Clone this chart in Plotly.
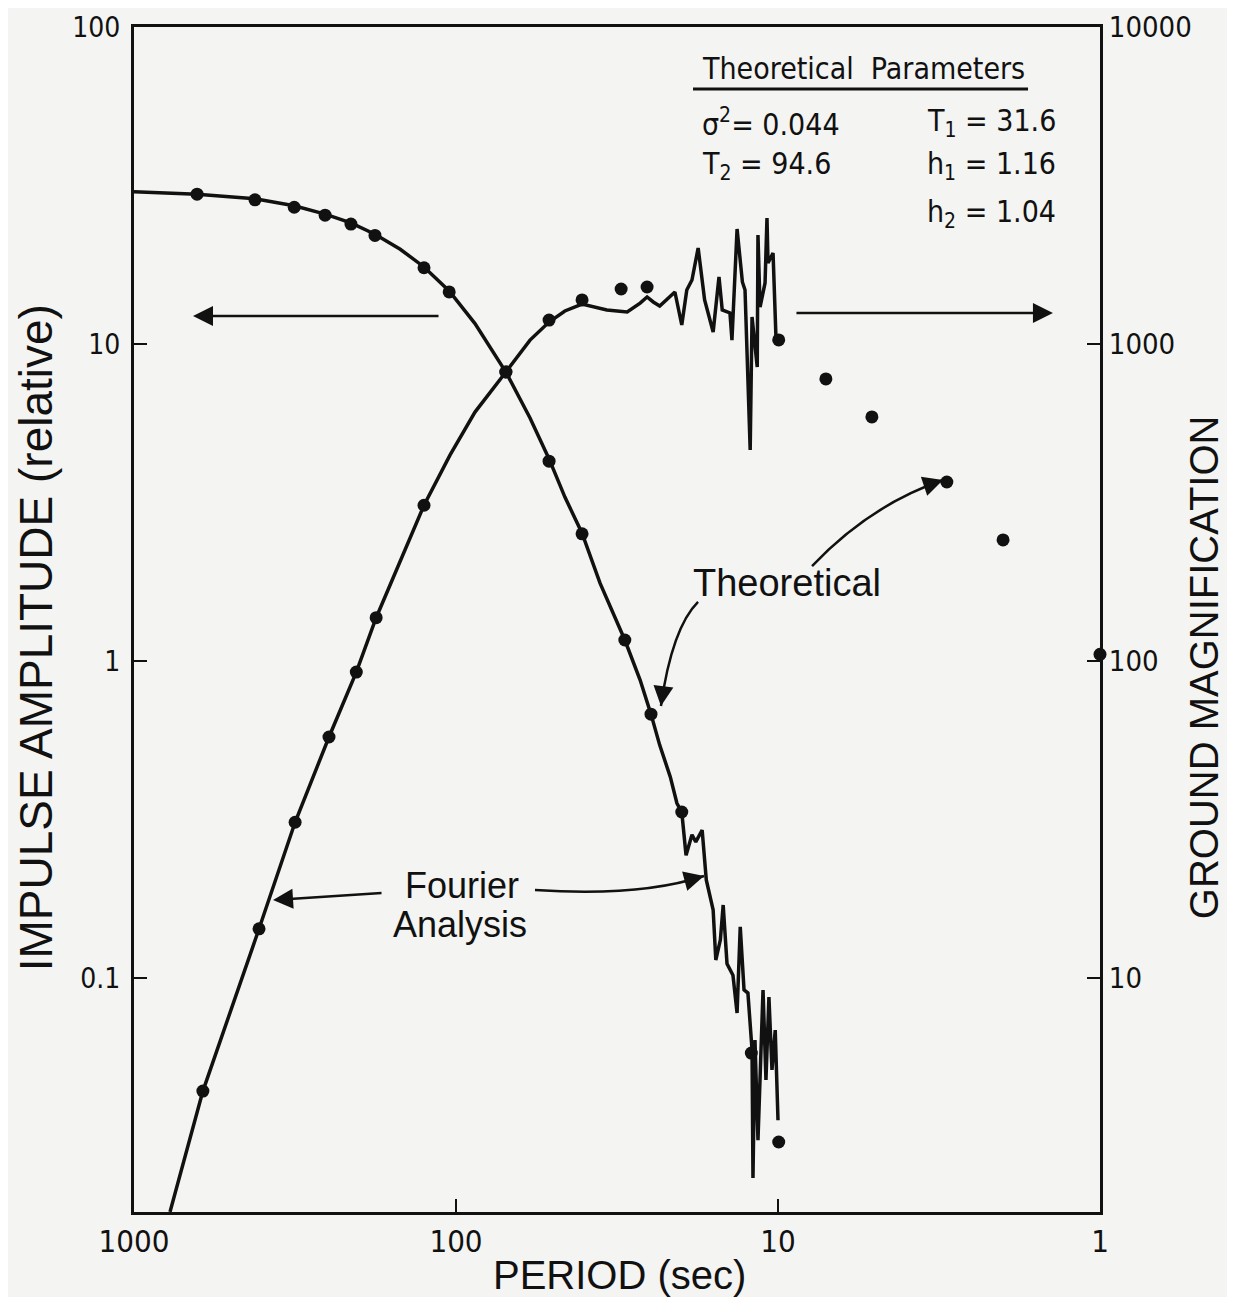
import plotly.graph_objects as go

# impulse amplitude (left axis) - Fourier analysis line
amp_period = [1000, 637, 421, 318, 255, 212, 178.5, 149, 125.7, 105, 87.3, 70, 58.9, 51.4, 45.9,
              40.6, 35.7, 29.9, 26.8, 24.8, 23.3, 21.6, 20.6, 19.9, 19.3, 18.5, 18.0, 17.2, 16.7,
              15.9, 15.6, 15.1, 14.8, 14.4, 13.8, 13.4, 13.1, 12.75, 12.4, 12.04, 11.96, 11.79,
              11.54, 11.29, 11.13, 10.9, 10.67, 10.44, 10.2, 10.0]
amp_value = [30.2, 29.7, 28.7, 27.3, 25.7, 24.1, 22.2, 19.9, 17.5, 14.7, 11.6, 8.16, 5.84, 4.34, 3.29,
             2.53, 1.76, 1.165, 0.871, 0.680, 0.543, 0.431, 0.356, 0.334, 0.244, 0.283, 0.269, 0.293,
             0.204, 0.164, 0.114, 0.132, 0.170, 0.111, 0.102, 0.0776, 0.145, 0.0917, 0.0897, 0.0593,
             0.0234, 0.0637, 0.0308, 0.0571, 0.0917, 0.0477, 0.0871, 0.0513, 0.0685, 0.0356]

# ground magnification (right axis) - Fourier analysis line
mag_period = [773, 611, 409, 316, 248, 204, 177, 149, 125.7, 104.4, 87.3, 70, 58.9, 51.4, 45.9, 40.6,
              34.0, 29.4, 26.8, 25.5, 24.4, 23.3, 22.1, 20.9, 19.9, 19.2, 18.5, 17.7, 16.9, 15.9,
              15.25, 14.9, 14.1, 13.9, 13.4, 12.9, 12.66, 12.2, 12.04, 11.6, 11.54, 11.37, 10.97,
              10.82, 10.74, 10.36, 10.14, 9.95]
mag_value = [1.83, 4.40, 14.3, 31.0, 57.6, 92.3, 137, 208, 310, 446, 610, 816, 1029, 1173, 1271, 1337,
             1281, 1262, 1346, 1407, 1357, 1318, 1387, 1459, 1148, 1480, 1592, 2009, 1377, 1091,
             1627, 1281, 1253, 1029, 2306, 1569, 1480, 463, 1217, 846, 2207, 1308, 1558,
             2497, 1801, 1937, 1029, 1030]

# theoretical points
amp_dot_period = [637, 421, 318, 255, 212, 178.5, 125.7, 105, 70, 51.4, 40.6, 29.9, 24.8, 19.9, 12.1, 9.95]
amp_dot_value = [29.7, 28.5, 27.0, 25.5, 23.9, 22.0, 17.4, 14.6, 8.16, 4.27, 2.52, 1.165, 0.680, 0.334, 0.058, 0.0304]
mag_dot_period = [611, 409, 316, 248, 204, 177, 125.7, 70, 51.4, 40.6, 30.7, 25.5, 9.95, 7.10, 5.11, 2.99, 2.00, 1.0]
mag_dot_value = [4.40, 14.3, 31.0, 57.6, 92.3, 137, 310, 816, 1190, 1377, 1491, 1513, 1030, 776, 589, 367, 241, 105]

x_ticks = [1000, 100, 10, 1]
left_ticks = [0.1, 1, 10, 100]
right_ticks = [10, 100, 1000, 10000]

ink = "#111111"
bg = "#f4f4f2"
narrow = "Liberation Sans Narrow, DejaVu Sans Condensed, sans-serif"
regular = "Liberation Sans, Arial, sans-serif"


def nfont(size):
    return dict(family=narrow, size=size, color=ink)


fig = go.Figure()

fig.add_trace(go.Scatter(x=amp_period, y=amp_value, mode="lines",
                         line=dict(color=ink, width=3.5), yaxis="y"))
fig.add_trace(go.Scatter(x=mag_period, y=mag_value, mode="lines",
                         line=dict(color=ink, width=3.5), yaxis="y2"))
fig.add_trace(go.Scatter(x=amp_dot_period, y=amp_dot_value, mode="markers", cliponaxis=False,
                         marker=dict(color=ink, size=13), yaxis="y"))
fig.add_trace(go.Scatter(x=mag_dot_period, y=mag_dot_value, mode="markers", cliponaxis=False,
                         marker=dict(color=ink, size=13), yaxis="y2"))

axis_common = dict(showline=True, linewidth=3, linecolor=ink, ticks="inside", ticklen=13,
                   tickwidth=2, tickcolor=ink, showgrid=False, zeroline=False, automargin=False)

fig.update_layout(
    width=1219, height=1289,
    paper_bgcolor=bg, plot_bgcolor=bg,
    margin=dict(l=126, r=127, t=19, b=85),
    showlegend=False,
    xaxis=dict(type="log", range=[3, 0], tickvals=x_ticks, ticktext=[str(v) for v in x_ticks],
               tickfont=nfont(31), mirror=True, ticklabelstandoff=0, **axis_common),
    yaxis=dict(type="log", range=[-1.738, 2], tickvals=left_ticks,
               ticktext=["0.1", "1", "10", "100"],
               tickfont=nfont(28), ticklabelstandoff=5, **axis_common),
    yaxis2=dict(type="log", range=[0.262, 4], tickvals=right_ticks,
                ticktext=[str(v) for v in right_ticks], overlaying="y", side="right",
                tickfont=nfont(29), ticklabelstandoff=0, **axis_common),
)

# axis titles
fig.add_annotation(text="IMPULSE AMPLITUDE (relative)", xref="paper", yref="paper", x=-0.1015, y=0.485,
                   xanchor="center", yanchor="middle", textangle=-90, showarrow=False,
                   font=dict(family=regular, size=46, color=ink))
fig.add_annotation(text="GROUND MAGNIFICATION", xref="paper", yref="paper", x=1.108, y=0.46,
                   xanchor="center", yanchor="middle", textangle=-90, showarrow=False,
                   font=dict(family=regular, size=40, color=ink))
fig.add_annotation(text="PERIOD (sec)", xref="paper", yref="paper", x=0.503, y=-0.053,
                   xanchor="center", yanchor="middle", showarrow=False,
                   font=dict(family=regular, size=40, color=ink))

# parameter block
params = [
    ("Theoretical  Parameters", 0.586, 0.9654),
    ("σ<sup>2</sup>= 0.044", 0.586, 0.919),
    ("T<sub>1</sub> = 31.6", 0.8188, 0.919),
    ("T<sub>2</sub> = 94.6", 0.586, 0.8835),
    ("h<sub>1</sub> = 1.16", 0.8188, 0.8835),
    ("h<sub>2</sub> = 1.04", 0.8188, 0.843),
]
for txt, px, py in params:
    fig.add_annotation(text=txt, xref="paper", yref="paper", x=px, y=py, xanchor="left",
                       yanchor="middle", showarrow=False, font=nfont(30))
fig.add_shape(type="line", xref="paper", yref="paper", x0=0.5787, x1=0.9255, y0=0.9477, y1=0.9477,
              line=dict(color=ink, width=3))

# labels
labels = [
    ("Theoretical", 0.676, 0.5308, 38),
    ("Fourier", 0.3395, 0.2752, 36),
    ("Analysis", 0.3375, 0.2422, 36),
]
for txt, px, py, fs in labels:
    fig.add_annotation(text=txt, xref="paper", yref="paper", x=px, y=py, xanchor="center",
                       yanchor="middle", showarrow=False, font=dict(family=regular, size=fs, color=ink))

# curved arrow bodies
curves = [
    "M 0.5839,0.5148 Q 0.5569,0.4928 0.5455,0.4270",
    "M 0.7019,0.5451 Q 0.7619,0.5966 0.8375,0.6177",
    "M 0.4151,0.2717 Q 0.5238,0.2658 0.5901,0.2835",
]
for p in curves:
    fig.add_shape(type="path", path=p, xref="paper", yref="paper", line=dict(color=ink, width=2.5))

# arrows (tip, tail offset in px)
arrows = [
    (0.0611, 0.7561, 247, 0),
    (0.9513, 0.7586, -258, 0),
    (0.1439, 0.2633, 110, -7),
    (0.5455, 0.4270, 2, -16),
    (0.8375, 0.6177, -15, 5),
    (0.5901, 0.2835, -15, 4),
]
for ax_x, ax_y, dx, dy in arrows:
    fig.add_annotation(text="", xref="paper", yref="paper", x=ax_x, y=ax_y, ax=dx, ay=dy,
                       showarrow=True, arrowhead=2, arrowsize=1.6, arrowwidth=2.5, arrowcolor=ink,
                       standoff=0)

fig.write_html("out.html")
